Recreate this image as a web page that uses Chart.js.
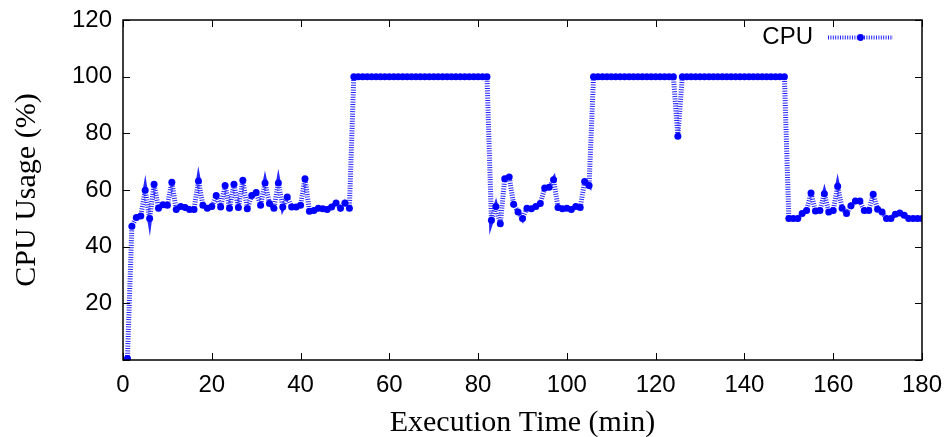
<!DOCTYPE html>
<html>
<head>
<meta charset="utf-8">
<script src="https://cdn.jsdelivr.net/npm/chart.js@4/dist/chart.umd.min.js"></script>
<style>
  html, body { margin: 0; padding: 0; background: #ffffff; }
  #wrap { width: 948px; height: 437px; position: relative; }
</style>
</head>
<body>
<div id="wrap"><canvas id="c"></canvas></div>
<script>
const seriesName = "CPU";
const xTitle = "Execution Time (min)";
const yTitle = "CPU Usage (%)";
const xTickValues = [0, 20, 40, 60, 80, 100, 120, 140, 160, 180];
const yTickValues = [0, 20, 40, 60, 80, 100, 120];

const minutes = [
  1, 2, 3, 4, 5, 6, 7, 8, 9, 10, 11, 12, 13, 14, 15, 16, 17, 18, 19, 20,
  21, 22, 23, 24, 25, 26, 27, 28, 29, 30, 31, 32, 33, 34, 35, 36, 37, 38, 39, 40,
  41, 42, 43, 44, 45, 46, 47, 48, 49, 50, 51, 52, 53, 54, 55, 56, 57, 58, 59, 60,
  61, 62, 63, 64, 65, 66, 67, 68, 69, 70, 71, 72, 73, 74, 75, 76, 77, 78, 79, 80,
  81, 82, 83, 84, 85, 86, 87, 88, 89, 90, 91, 92, 93, 94, 95, 96, 97, 98, 99, 100,
  101, 102, 103, 104, 105, 106, 107, 108, 109, 110, 111, 112, 113, 114, 115, 116, 117, 118, 119, 120,
  121, 122, 123, 124, 125, 126, 127, 128, 129, 130, 131, 132, 133, 134, 135, 136, 137, 138, 139, 140,
  141, 142, 143, 144, 145, 146, 147, 148, 149, 150, 151, 152, 153, 154, 155, 156, 157, 158, 159, 160,
  161, 162, 163, 164, 165, 166, 167, 168, 169, 170, 171, 172, 173, 174, 175, 176, 177, 178, 179, 180
];

const cpuUsage = [
  0.5, 47.2, 50.3, 50.8, 59.9, 49.9, 62.0, 53.6, 54.8, 54.6,
  62.7, 53.1, 54.2, 53.8, 53.1, 53.1, 63.2, 54.6, 53.6, 54.2,
  58.1, 54.0, 61.6, 53.6, 62.0, 53.8, 63.4, 53.4, 58.1, 59.1,
  54.6, 62.5, 55.2, 53.6, 62.5, 54.0, 57.5, 54.0, 54.0, 54.6,
  64.0, 52.5, 52.8, 53.6, 53.4, 53.1, 54.0, 55.4, 53.6, 55.4,
  53.6, 100, 100, 100, 100, 100, 100, 100, 100, 100,
  100, 100, 100, 100, 100, 100, 100, 100, 100, 100,
  100, 100, 100, 100, 100, 100, 100, 100, 100, 100,
  100, 100, 49.3, 54.2, 48.1, 64.0, 64.6, 55.0, 52.2, 49.9,
  53.6, 53.4, 54.2, 55.2, 60.7, 61.0, 63.6, 53.8, 53.4, 53.6,
  53.1, 54.2, 53.8, 63.0, 61.6, 100, 100, 100, 100, 100,
  100, 100, 100, 100, 100, 100, 100, 100, 100, 100,
  100, 100, 100, 100, 79.0, 100, 100, 100, 100, 100,
  100, 100, 100, 100, 100, 100, 100, 100, 100, 100,
  100, 100, 100, 100, 100, 100, 100, 100, 100, 49.9,
  49.9, 49.9, 51.7, 52.8, 58.9, 52.6, 52.8, 58.7, 52.2, 52.8,
  61.3, 53.6, 51.7, 54.4, 56.1, 56.1, 52.8, 52.8, 58.5, 53.2,
  52.2, 49.9, 49.9, 51.4, 51.9, 51.1, 49.9, 49.9, 49.9, 49.9
];

const points = minutes.map((m, i) => ({ x: m, y: cpuUsage[i] }));

Chart.defaults.font.family = "'Liberation Sans', Arial, sans-serif";
Chart.defaults.color = "#000000";

function zeroScalePadding(scale) {
  scale.paddingTop = 0;
  scale.paddingBottom = 0;
  scale.paddingLeft = 0;
  scale.paddingRight = 0;
}

const frameAndTicks = {
  id: "frameAndTicks",
  afterDraw(chart) {
    const ctx = chart.ctx;
    const a = chart.chartArea;
    const xs = chart.scales.x, ys = chart.scales.y;
    ctx.save();
    ctx.strokeStyle = "#000000";
    ctx.lineWidth = 1;
    ctx.beginPath();
    yTickValues.forEach(v => {
      const py = Math.round(ys.getPixelForValue(v)) + 0.5;
      ctx.moveTo(a.left, py); ctx.lineTo(a.left + 7, py);
      ctx.moveTo(a.right, py); ctx.lineTo(a.right - 7, py);
    });
    xTickValues.forEach(v => {
      const px = Math.round(xs.getPixelForValue(v)) + 0.5;
      ctx.moveTo(px, a.bottom); ctx.lineTo(px, a.bottom - 7);
      ctx.moveTo(px, a.top); ctx.lineTo(px, a.top + 7);
    });
    ctx.stroke();
    ctx.lineWidth = 1.5;
    ctx.strokeRect(a.left, a.top, a.right - a.left, a.bottom - a.top);
    ctx.restore();
  }
};

const gnuLegend = {
  id: "gnuLegend",
  afterDatasetsDraw(chart) {
    const ctx = chart.ctx;
    const ds = chart.data.datasets[0];
    const a = chart.chartArea;
    const ty = a.top + 17.5;
    const textRight = a.right - 109;
    ctx.save();
    ctx.font = "24px 'Liberation Sans', Arial, sans-serif";
    ctx.fillStyle = "#000000";
    ctx.textAlign = "right";
    ctx.textBaseline = "middle";
    ctx.fillText(ds.label, textRight, ty);
    const x0 = textRight + 15, x1 = x0 + 65;
    ctx.strokeStyle = ds.borderColor;
    ctx.lineWidth = 4;
    ctx.setLineDash(ds.borderDash);
    ctx.beginPath();
    ctx.moveTo(x0, ty); ctx.lineTo(x1, ty);
    ctx.stroke();
    ctx.setLineDash([]);
    ctx.fillStyle = ds.pointBackgroundColor;
    ctx.beginPath();
    ctx.arc((x0 + x1) / 2, ty, 3.4, 0, Math.PI * 2);
    ctx.fill();
    ctx.restore();
  }
};

new Chart(document.getElementById("c"), {
  type: "line",
  data: {
    datasets: [{
      label: seriesName,
      data: points,
      borderColor: "rgba(0,0,255,0.85)",
      borderWidth: 5,
      borderDash: [1, 1.4],
      borderJoinStyle: "miter",
      pointRadius: 3.5,
      pointBorderWidth: 0,
      pointBackgroundColor: "#0000ff",
      pointBorderColor: "#0000ff",
      pointHoverRadius: 3.5,
      tension: 0,
      fill: false
    }]
  },
  options: {
    responsive: true,
    maintainAspectRatio: false,
    animation: false,
    events: [],
    layout: { padding: { left: 0, right: 26, top: 20, bottom: 0 } },
    plugins: {
      legend: { display: false },
      tooltip: { enabled: false }
    },
    scales: {
      x: {
        type: "linear",
        min: 0,
        max: 180,
        afterBuildTicks(scale) { scale.ticks = xTickValues.map(v => ({ value: v })); },
        afterFit(scale) { scale.height = 77; zeroScalePadding(scale); },
        grid: { display: false, drawTicks: false },
        border: { display: false },
        ticks: { font: { size: 24 }, padding: 11, maxRotation: 0, autoSkip: false, color: "#000" },
        title: {
          display: true,
          text: xTitle,
          font: { family: "'Liberation Serif', 'Times New Roman', serif", size: 30 },
          padding: { top: 0, bottom: -4 },
          color: "#000"
        }
      },
      y: {
        type: "linear",
        min: 0,
        max: 120,
        afterBuildTicks(scale) { scale.ticks = yTickValues.map(v => ({ value: v })); },
        afterFit(scale) { scale.width = 123; zeroScalePadding(scale); },
        grid: { display: false, drawTicks: false },
        border: { display: false },
        ticks: {
          font: { size: 24 },
          padding: 11,
          color: "#000",
          callback: (v) => (v === 0 ? "" : String(v))
        },
        title: {
          display: true,
          text: yTitle,
          font: { family: "'Liberation Serif', 'Times New Roman', serif", size: 30 },
          padding: { top: 9, bottom: 0 },
          color: "#000"
        }
      }
    }
  },
  plugins: [frameAndTicks, gnuLegend]
});
</script>
</body>
</html>
